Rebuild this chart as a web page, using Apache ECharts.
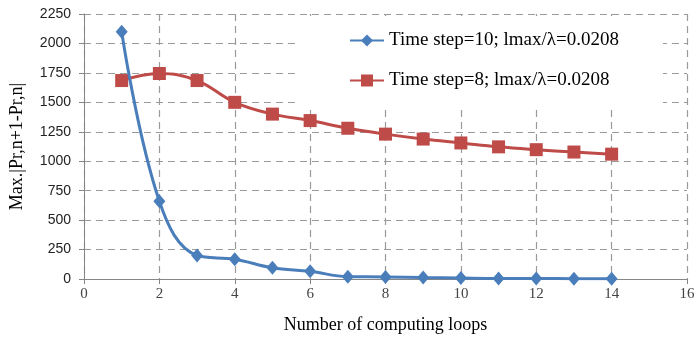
<!DOCTYPE html>
<html><head><meta charset="utf-8">
<script src="https://cdn.jsdelivr.net/npm/echarts@6/dist/echarts.min.js"></script>
<style>html,body{margin:0;padding:0;background:#fff}#c{width:699px;height:339px}</style>
</head><body><div id="c"></div>
<script>
const loops = [1,2,3,4,5,6,7,8,9,10,11,12,13,14];
const step10 = [2100,660,200,168,95,65,20,18,12,8,5,5,3,2];
const step8 = [1685,1745,1685,1500,1400,1345,1280,1230,1188,1155,1122,1098,1078,1060];
const seriesNames = ['Time step=10; lmax/\u03bb=0.0208','Time step=8; lmax/\u03bb=0.0208'];
const xTicks = {min:0,max:16,interval:2};
const yTicks = {min:0,max:2250,interval:250};

const chart = echarts.init(document.getElementById('c'));
const dash = {color:'#9a9a9a',type:[7,5],width:1.2};
chart.setOption({
  animation:false,
  backgroundColor:'#fff',
  grid:{left:80,right:12,top:14,bottom:58},
  legend:{
    orient:'vertical',left:297,top:16,
    padding:[15,44,17,52],
    backgroundColor:'#fff',
    itemWidth:34,itemHeight:15,itemGap:21,
    textStyle:{fontFamily:'Liberation Serif',fontSize:19,color:'#000'},
    data:seriesNames
  },
  xAxis:{
    type:'value',min:xTicks.min,max:xTicks.max,interval:xTicks.interval,
    name:'Number of computing loops',nameLocation:'middle',nameGap:37,
    nameTextStyle:{fontFamily:'Liberation Serif',fontSize:18,color:'#000'},
    axisLine:{lineStyle:{color:'#868686',width:1}},
    axisTick:{show:true,length:5,lineStyle:{color:'#868686'}},
    axisLabel:{fontFamily:'Liberation Serif',fontSize:15,color:'#444',margin:8},
    splitLine:{show:true,lineStyle:dash}
  },
  yAxis:{
    type:'value',min:yTicks.min,max:yTicks.max,interval:yTicks.interval,
    name:'Max.|Pr,n+1-Pr,n|',nameLocation:'middle',nameGap:58,
    nameTextStyle:{fontFamily:'Liberation Serif',fontSize:18,color:'#000'},
    axisLine:{show:true,lineStyle:{color:'#868686',width:1}},
    axisTick:{show:true,length:5,lineStyle:{color:'#868686'}},
    axisLabel:{fontFamily:'Liberation Sans',fontSize:14,color:'#222',margin:13,formatter:v=>String(v)},
    splitLine:{show:true,lineStyle:dash}
  },
  series:[
    {name:seriesNames[0],type:'line',smooth:0.4,
     data:loops.map((x,i)=>[x,step10[i]]),
     symbol:'diamond',symbolSize:[12,14],
     itemStyle:{color:'#4A7EBB'},lineStyle:{width:3,color:'#4A7EBB'},z:3},
    {name:seriesNames[1],type:'line',smooth:0.4,
     data:loops.map((x,i)=>[x,step8[i]]),
     symbol:'rect',symbolSize:13,
     itemStyle:{color:'#BE4B48'},lineStyle:{width:3,color:'#BE4B48'},z:2}
  ]
});
</script></body></html>
